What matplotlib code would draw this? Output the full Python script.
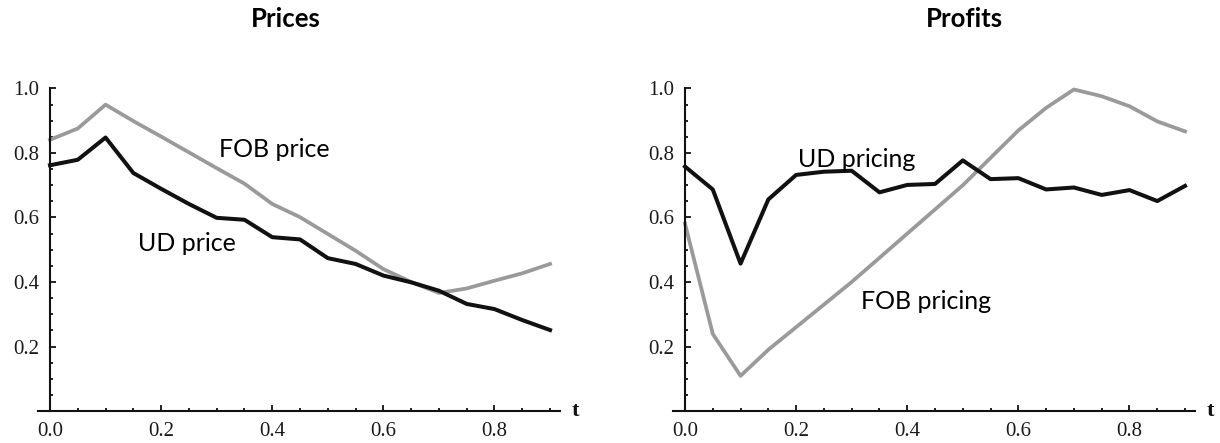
import numpy as np
import matplotlib
matplotlib.use("Agg")
import matplotlib.pyplot as plt
from matplotlib.ticker import MultipleLocator, FixedLocator

# ---- data ----
t = [0.0, 0.05, 0.1, 0.15, 0.2, 0.25, 0.3, 0.35, 0.4, 0.45,
     0.5, 0.55, 0.6, 0.65, 0.7, 0.75, 0.8, 0.85, 0.9]

fob_price = [0.841, 0.876, 0.950, 0.899, 0.851, 0.802, 0.753, 0.705, 0.642, 0.601,
             0.549, 0.497, 0.440, 0.400, 0.366, 0.380, 0.404, 0.427, 0.456]
ud_price = [0.762, 0.779, 0.848, 0.738, 0.689, 0.642, 0.599, 0.593, 0.539, 0.532,
            0.474, 0.456, 0.420, 0.399, 0.373, 0.332, 0.316, 0.282, 0.251]

fob_profit = [0.581, 0.239, 0.109, 0.190, 0.260, 0.330, 0.400, 0.475, 0.550, 0.625,
              0.700, 0.785, 0.870, 0.940, 0.997, 0.976, 0.945, 0.898, 0.867]
ud_profit = [0.758, 0.687, 0.457, 0.656, 0.732, 0.742, 0.745, 0.678, 0.701, 0.704,
             0.777, 0.719, 0.722, 0.687, 0.693, 0.670, 0.685, 0.651, 0.698]

x_ticks = [0.0, 0.2, 0.4, 0.6, 0.8]
y_ticks = [0.2, 0.4, 0.6, 0.8, 1.0]

GRAY = "#9a9a9a"
DARK = "#111111"
LABEL_FONT = ["Lato", "DejaVu Sans"]
TICK_FONT = ["Liberation Serif", "DejaVu Serif"]

fig = plt.figure(figsize=(12.2, 4.43), dpi=100)

W, H = 1220.0, 443.0
XMIN, XMAX = -0.021, 0.918
PX_PER_UNIT = 555.6


def make_axes(x0_px):
    left = (x0_px + XMIN * PX_PER_UNIT) / W
    width = (XMAX - XMIN) * PX_PER_UNIT / W
    bottom = (H - 411) / H
    height = (411 - 88.5) / H
    return fig.add_axes([left, bottom, width, height])


def style_axes(ax):
    ax.set_xlim(XMIN, XMAX)
    ax.set_ylim(0, 1.0)
    for s in ["top", "right"]:
        ax.spines[s].set_visible(False)
    ax.spines["left"].set_position(("data", 0))
    ax.spines["left"].set_bounds(0, 1.0)
    ax.spines["bottom"].set_position(("data", 0))
    for s in ["left", "bottom"]:
        ax.spines[s].set_linewidth(1.5)
        ax.spines[s].set_color("#111111")
    ax.xaxis.set_major_locator(FixedLocator(x_ticks))
    ax.yaxis.set_major_locator(FixedLocator(y_ticks))
    ax.xaxis.set_minor_locator(MultipleLocator(0.05))
    ax.yaxis.set_minor_locator(MultipleLocator(0.05))
    ax.set_xticklabels([f"{v:.1f}" for v in x_ticks])
    ax.set_yticklabels([f"{v:.1f}" for v in y_ticks])
    ax.tick_params(which="both", direction="in", width=1.3, color="#111111")
    ax.tick_params(which="major", length=4.5, pad=8, labelsize=15)
    ax.tick_params(which="minor", length=2.5)
    for lab in ax.get_xticklabels() + ax.get_yticklabels():
        lab.set_family(TICK_FONT)
        lab.set_color("#1a1a1a")
    ax.patch.set_alpha(0)
    ax.text(XMAX + 0.02, 0, "t", family=TICK_FONT, fontsize=16, fontweight="bold",
            ha="left", va="center", color="#111111")


# ---- Prices ----
ax1 = make_axes(50)
style_axes(ax1)
ax1.plot(t, fob_price, color=GRAY, lw=2.7, clip_on=False, solid_joinstyle="round")
ax1.plot(t, ud_price, color=DARK, lw=2.9, clip_on=False, solid_joinstyle="round")
ax1.text(0.305, 0.81, "FOB price", family=LABEL_FONT, fontsize=18, va="center", ha="left")
ax1.text(0.159, 0.52, "UD price", family=LABEL_FONT, fontsize=18, va="center", ha="left")

# ---- Profits ----
ax2 = make_axes(685)
style_axes(ax2)
ax2.plot(t, fob_profit, color=GRAY, lw=2.7, clip_on=False, solid_joinstyle="round")
ax2.plot(t, ud_profit, color=DARK, lw=2.9, clip_on=False, solid_joinstyle="round")
ax2.text(0.203, 0.78, "UD pricing", family=LABEL_FONT, fontsize=18, va="center", ha="left")
ax2.text(0.316, 0.338, "FOB pricing", family=LABEL_FONT, fontsize=18, va="center", ha="left")

fig.text(286 / W, 1 - 26.7 / H, "Prices", family=LABEL_FONT, fontweight="bold",
         fontsize=18.5, ha="center", va="baseline")
fig.text(964.5 / W, 1 - 26.7 / H, "Profits", family=LABEL_FONT, fontweight="bold",
         fontsize=18.5, ha="center", va="baseline")

fig.savefig("out.png", dpi=100)
